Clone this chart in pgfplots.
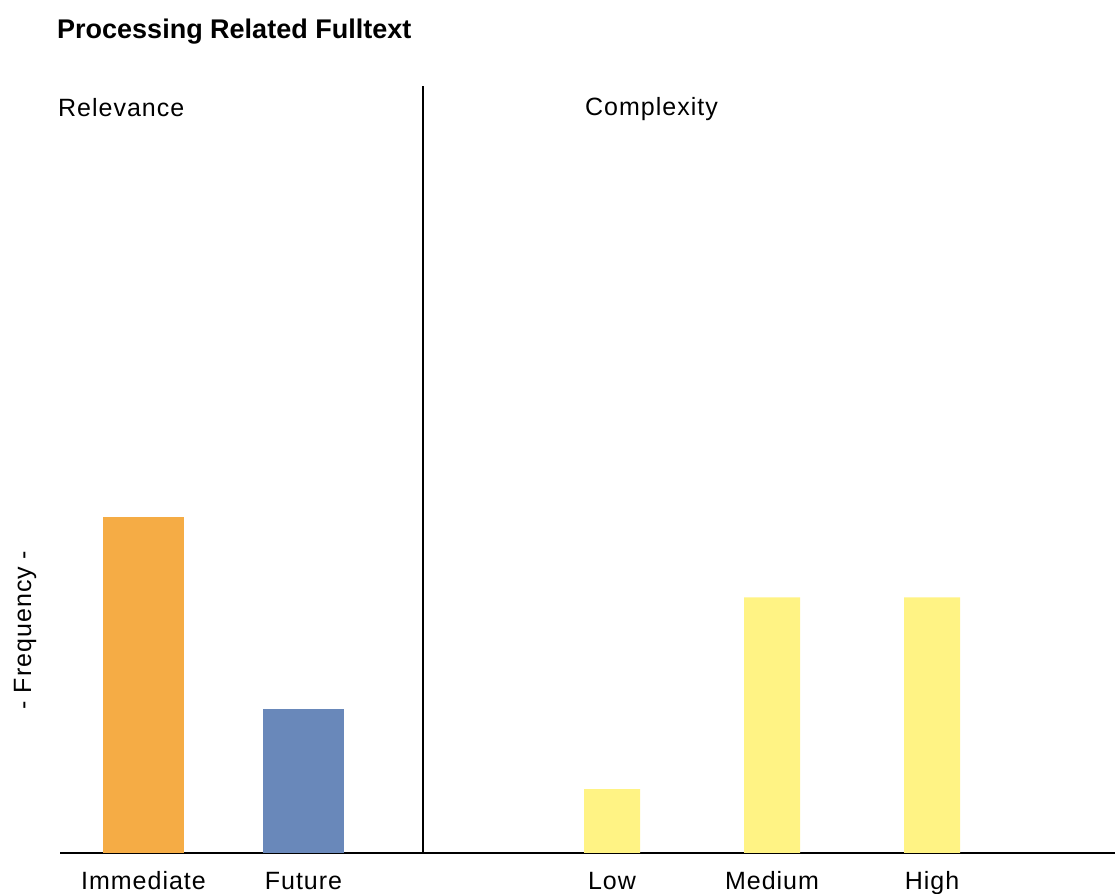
\documentclass[border=0pt]{standalone}
\usepackage{fontspec}
\setmainfont{Liberation Sans}
\newfontfamily\lsfont[LetterSpace=4]{Liberation Sans}
\usepackage{pgfplots}
\pgfplotsset{compat=1.18}
\definecolor{barorange}{HTML}{F5AC45}
\definecolor{barblue}{HTML}{6988BA}
\definecolor{baryellow}{HTML}{FFF384}
\begin{document}
\begin{tikzpicture}
\useasboundingbox (0,0) rectangle (1115bp,894bp);
\begin{axis}[
  at={(60bp,41bp)}, anchor=south west,
  scale only axis, width=1055bp, height=767bp,
  xmin=60, xmax=1115, ymin=0, ymax=48,
  axis x line*=bottom, axis y line=none,
  x axis line style={line width=2.5bp, black},
  xtick={143.5,303.5,612,772,932},
  xticklabels={Immediate,Future,Low,Medium,High},
  major tick length=0pt,
  xticklabel style={font=\lsfont\fontsize{25bp}{30bp}\selectfont, anchor=base, inner sep=0pt, yshift=-37bp},
  clip=false,
]
\addplot[ybar, bar width=81, bar shift=0pt, fill=barorange, draw=none] coordinates {(143.5,21)};
\addplot[ybar, bar width=81, bar shift=0pt, fill=barblue, draw=none] coordinates {(303.5,9)};
\addplot[ybar, bar width=56, bar shift=0pt, fill=baryellow, draw=none] coordinates {(612,4) (772,16) (932,16)};
\draw[line width=2.5bp, black] (axis cs:423,0) -- (axis cs:423,48);
\end{axis}
\node[anchor=base west, inner sep=0pt, font=\bfseries\fontsize{27bp}{32bp}\selectfont] at (57bp,855bp) {Processing Related Fulltext};
\node[anchor=base west, inner sep=0pt, font=\lsfont\fontsize{25bp}{30bp}\selectfont] at (58bp,777bp) {Relevance};
\node[anchor=base west, inner sep=0pt, font=\lsfont\fontsize{25bp}{30bp}\selectfont] at (585bp,778bp) {Complexity};
\node[anchor=base, rotate=90, inner sep=0pt, font=\lsfont\fontsize{25bp}{30bp}\selectfont] at (31bp,264bp) {- Frequency -};
\end{tikzpicture}
\end{document}
